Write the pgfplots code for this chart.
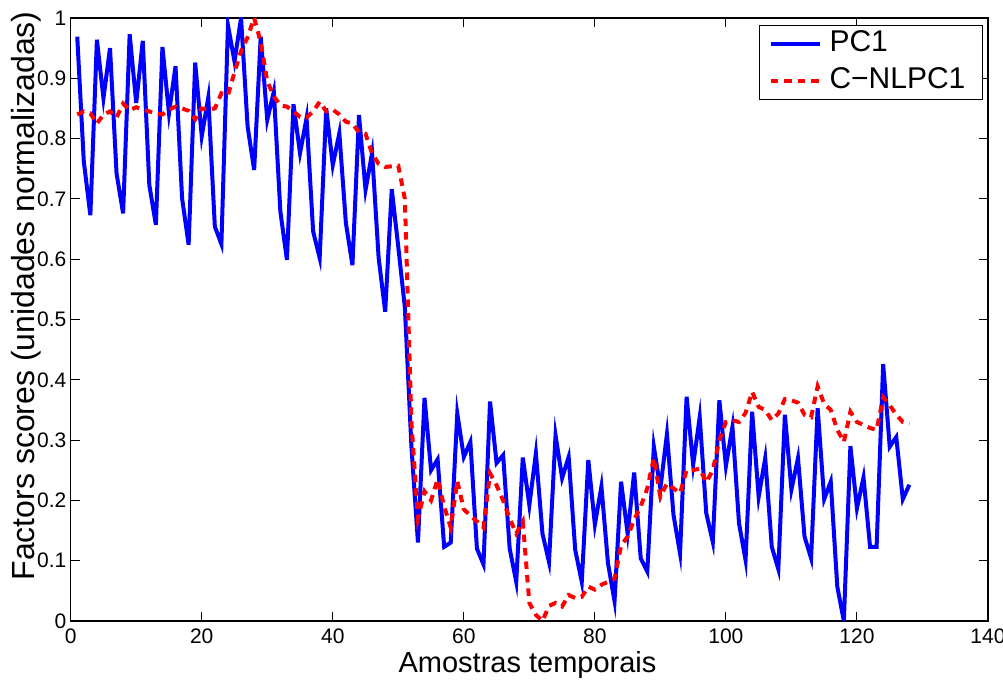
\documentclass[border=0pt]{standalone}
\usepackage{fontspec}
\setmainfont{Liberation Sans}
\usepackage{pgfplots}
\pgfplotsset{compat=1.18}
\pgfplotstableread{
x y
1 0.969
2 0.762
3 0.673
4 0.964
5 0.867
6 0.95
7 0.742
8 0.676
9 0.973
10 0.859
11 0.962
12 0.723
13 0.657
14 0.952
15 0.842
16 0.92
17 0.701
18 0.624
19 0.926
20 0.804
21 0.868
22 0.654
23 0.625
24 0.988
25 0.928
26 1.0
27 0.82
28 0.748
29 0.969
30 0.831
31 0.878
32 0.679
33 0.599
34 0.857
35 0.776
36 0.834
37 0.646
38 0.602
39 0.85
40 0.756
41 0.809
42 0.66
43 0.59
44 0.839
45 0.715
46 0.776
47 0.602
48 0.513
49 0.716
50 0.62
51 0.52
52 0.29
53 0.13
54 0.37
55 0.25
56 0.268
57 0.123
58 0.13
59 0.344
60 0.272
61 0.297
62 0.12
63 0.094
64 0.364
65 0.262
66 0.275
67 0.12
68 0.065
69 0.271
70 0.192
71 0.278
72 0.145
73 0.098
74 0.308
75 0.237
76 0.272
77 0.118
78 0.065
79 0.267
80 0.16
81 0.223
82 0.096
83 0.033
84 0.231
85 0.145
86 0.246
87 0.104
88 0.082
89 0.289
90 0.22
91 0.31
92 0.176
93 0.112
94 0.372
95 0.259
96 0.338
97 0.179
98 0.131
99 0.366
100 0.257
101 0.322
102 0.162
103 0.101
104 0.347
105 0.206
106 0.27
107 0.123
108 0.086
109 0.342
110 0.218
111 0.27
112 0.14
113 0.104
114 0.353
115 0.202
116 0.231
117 0.057
118 0.0
119 0.29
120 0.187
121 0.238
122 0.123
123 0.123
124 0.426
125 0.289
126 0.305
127 0.202
128 0.226
}\pcone
\pgfplotstableread{
x y
1 0.84
2 0.845
3 0.842
4 0.825
5 0.84
6 0.845
7 0.835
8 0.858
9 0.847
10 0.852
11 0.848
12 0.845
13 0.842
14 0.84
15 0.848
16 0.853
17 0.85
18 0.846
19 0.832
20 0.85
21 0.848
22 0.85
23 0.875
24 0.872
25 0.91
26 0.945
27 0.968
28 1.0
29 0.96
30 0.895
31 0.87
32 0.855
33 0.853
34 0.845
35 0.836
36 0.835
37 0.845
38 0.861
39 0.845
40 0.848
41 0.84
42 0.828
43 0.825
44 0.81
45 0.808
46 0.775
47 0.758
48 0.753
49 0.754
50 0.755
51 0.70
52 0.33
53 0.17
54 0.215
55 0.2
56 0.235
57 0.19
58 0.155
59 0.232
60 0.185
61 0.175
62 0.165
63 0.155
64 0.245
65 0.225
66 0.2
67 0.17
68 0.145
69 0.165
70 0.03
71 0.01
72 0.0
73 0.025
74 0.03
75 0.024
76 0.043
77 0.038
78 0.04
79 0.057
80 0.052
81 0.06
82 0.065
83 0.07
84 0.125
85 0.14
86 0.168
87 0.19
88 0.22
89 0.27
90 0.206
91 0.228
92 0.22
93 0.212
94 0.25
95 0.25
96 0.253
97 0.23
98 0.25
99 0.3
100 0.33
101 0.333
102 0.33
103 0.345
104 0.38
105 0.355
106 0.35
107 0.333
108 0.344
109 0.368
110 0.366
111 0.362
112 0.342
113 0.338
114 0.389
115 0.36
116 0.35
117 0.317
118 0.297
119 0.347
120 0.33
121 0.325
122 0.32
123 0.317
124 0.371
125 0.358
126 0.342
127 0.33
128 0.327
}\nlpc
\begin{document}
\begin{tikzpicture}
\useasboundingbox (-35.35pt,-31.5pt) rectangle (466.15pt,310.5pt);
\begin{axis}[
  at={(0,0)}, anchor=south west,
  scale only axis, width=458.65pt, height=301.5pt,
  xmin=0, xmax=140, ymin=0, ymax=1,
  xtick={0,20,40,60,80,100,120,140},
  xticklabels={0,20,40,60,80,100,120,140},
  ytick={0,0.1,0.2,0.3,0.4,0.5,0.6,0.7,0.8,0.9,1},
  yticklabels={0,0.1,0.2,0.3,0.4,0.5,0.6,0.7,0.8,0.9,1},
  tick align=inside,
  major tick length=4.5pt,
  tick style={black, line width=0.5pt},
  axis line style={black, line width=0.6pt},
  ticklabel style={font=\fontsize{10.5}{12}\selectfont},
  xticklabel style={anchor=base, yshift=-11.5pt},
  yticklabel style={anchor=east, inner sep=0pt, xshift=-2pt},
  xlabel={Amostras temporais},
  ylabel={Factors scores (unidades normalizadas)},
  xlabel style={at={(rel axis cs:0.498,0)}, anchor=base, yshift=-26pt, font=\fontsize{14.5}{17}\selectfont},
  ylabel style={at={(rel axis cs:0,0.539)}, anchor=base, yshift=17.85pt, font=\fontsize{16}{19}\selectfont},
  legend style={at={(0.9946,0.988)}, anchor=north east, draw=black, line width=0.6pt,
    font=\fontsize{15}{17}\selectfont, inner xsep=4.5pt, inner ysep=0pt,
    nodes={inner xsep=4pt, inner ysep=2pt, text height=11pt, text depth=3.5pt},
    /tikz/every even column/.append style={column sep=0.75pt}},
  legend cell align=left,
  legend image code/.code={\draw[#1] (0pt,0pt) -- (24.5pt,0pt);},
]
\addplot[color={rgb,255:red,0;green,0;blue,255}, line width=2pt] table[x=x,y=y] {\pcone};
\addlegendentry{PC1}
\addplot[color={rgb,255:red,255;green,0;blue,0}, line width=2pt, dash pattern=on 3.75pt off 3pt] table[x=x,y=y] {\nlpc};
\addlegendentry{C−NLPC1}
\end{axis}
\end{tikzpicture}
\end{document}
